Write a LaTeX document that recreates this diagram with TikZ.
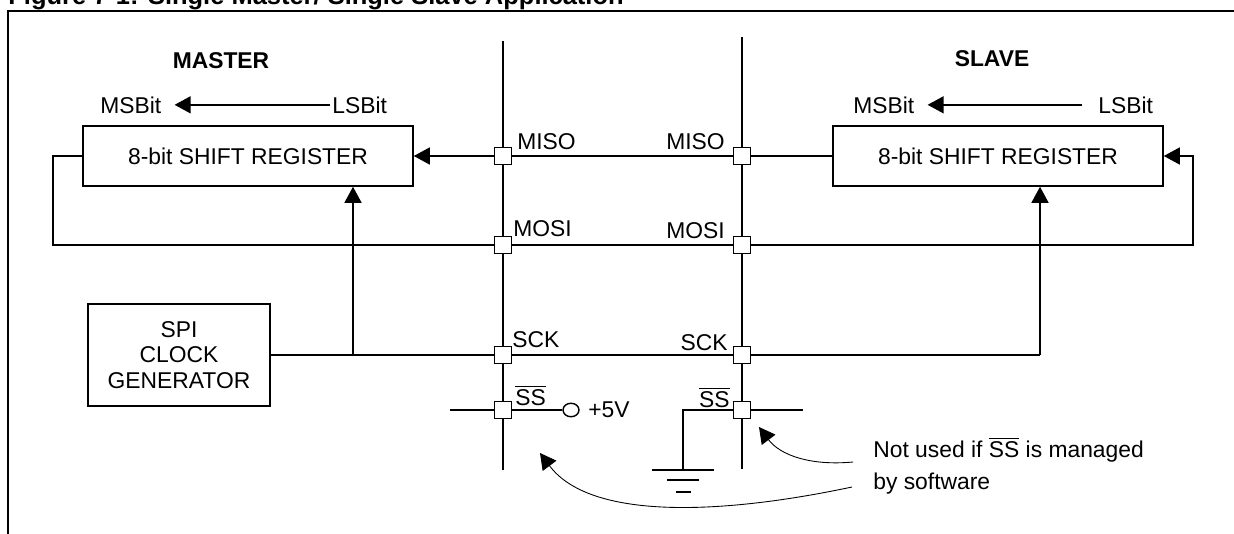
\documentclass[tikz,border=0pt]{standalone}
\usepackage{fontspec}
\setmainfont{Liberation Sans}
\usetikzlibrary{arrows.meta,shapes.geometric}
\tikzset{
  >={Triangle[length=0.32cm,width=0.34cm]},
  wire/.style={line width=0.8pt},
  regbox/.style={draw, line width=0.9pt, minimum width=6.6cm,
                 minimum height=1.2cm, inner sep=0pt},
  pin/.style={draw, line width=0.8pt, fill=white, minimum size=0.34cm,
              inner sep=0pt},
  lbl/.style={inner sep=0pt},
  note/.style={line width=0.5pt}
}
\begin{document}
\begin{tikzpicture}[x = 0.02cm, y = -0.02cm,
                    font = \fontsize{13}{15}\selectfont]
  \useasboundingbox (0,0) rectangle (1234,534);
  % title and frame
  \node [lbl, anchor = base west,
         font = \bfseries\fontsize{14.5}{17}\selectfont] (title)
    at (8,5) {Figure 7-1: Single Master/ Single Slave Application};
  \draw [line width = 1pt] (8,534) -- (8,11) -- (1234,11);

  % master and slave
  \node [lbl, anchor = base, font = \bfseries\fontsize{13}{15}\selectfont]
    (master) at (221,68) {MASTER};
  \node [lbl, anchor = base, font = \bfseries\fontsize{13}{15}\selectfont]
    (slave) at (992,66) {SLAVE};
  \node [lbl, anchor = base west] (mmsb) at (100,113) {MSBit};
  \node [lbl, anchor = base west] (mlsb) at (332,113) {LSBit};
  \node [lbl, anchor = base west] (smsb) at (853,113) {MSBit};
  \node [lbl, anchor = base west] (slsb) at (1098,113) {LSBit};
  \draw [wire, ->, shorten <= 0.04cm, shorten >= 0.26cm] (mlsb) -- (mmsb);
  \draw [wire, ->, shorten <= 0.32cm, shorten >= 0.26cm] (slsb) -- (smsb);
  \node [regbox] (mreg) at (248,156) {8-bit SHIFT REGISTER};
  \node [regbox] (sreg) at (998,156) {8-bit SHIFT REGISTER};
  \node [draw, line width = 0.9pt, minimum width = 3.64cm,
         minimum height = 2.04cm, align = center,
         font = \fontsize{13}{14.7}\selectfont] (clk)
    at (179,355) {SPI\\CLOCK\\GENERATOR};

  % bus pins
  \foreach \n/\y in {miso/156, mosi/245, sck/355, ss/410}
    {
      \node [pin] (l\n) at (503,\y) {};
      \node [pin] (r\n) at (742,\y) {};
    }
  \coordinate (ltop) at (503,41);
  \coordinate (lbot) at (503,470);
  \coordinate (rtop) at (742,37);
  \coordinate (rbot) at (742,469);
  \draw [wire] (ltop) -- (lmiso) -- (lmosi) -- (lsck) -- (lss) -- (lbot);
  \draw [wire] (rtop) -- (rmiso) -- (rmosi) -- (rsck) -- (rss) -- (rbot);
  \node [lbl, anchor = base west] (lmisolbl) at (517,149) {MISO};
  \node [lbl, anchor = base east] (rmisolbl) at (725,149) {MISO};
  \node [lbl, anchor = base west] (lmosilbl) at (513,236) {MOSI};
  \node [lbl, anchor = base east] (rmosilbl) at (725,238) {MOSI};
  \node [lbl, anchor = base west] (lscklbl) at (512,347) {SCK};
  \node [lbl, anchor = base east] (rscklbl) at (728,350) {SCK};
  \node [lbl, anchor = base west] (lsslbl) at (515,405)
    {$\overline{\mbox{SS}}$};
  \node [lbl, anchor = base east] (rsslbl) at (730,407)
    {$\overline{\mbox{SS}}$};

  % MISO, MOSI, SCK
  \draw [wire] (sreg) -- (rmiso) -- (lmiso);
  \draw [wire, ->] (lmiso) -- (mreg);
  \coordinate (mfb) at (53,245);
  \coordinate (sfb) at (1193,245);
  \draw [wire, ->] (mreg.west) -| (mfb) -- (lmosi) -- (rmosi) -- (sfb)
    |- (sreg.east);
  \coordinate (mtap) at (353,355);
  \coordinate (stap) at (1040,355);
  \draw [wire] (clk) -- (lsck) -- (rsck) -- (stap);
  \draw [wire, ->] (mtap) -- (mtap |- mreg.south);
  \draw [wire, ->] (stap) -- (stap |- sreg.south);

  % slave select
  \coordinate (lssw) at (450,410);
  \node [draw, ellipse, wire, minimum width = 0.32cm,
         minimum height = 0.27cm, inner sep = 0pt] (vcc) at (571,410) {};
  \node [lbl, anchor = west] (vcclbl) at (588,410) {+5V};
  \draw [wire] (lssw) -- (lss) -- (vcc);
  \coordinate (gnd) at (683,470);
  \coordinate (rsse) at (803,410);
  \draw [wire] (gnd) |- (rss) -- (rsse);
  \foreach \w/\y in {31/470, 16/480, 7.5/492}
    \draw [wire] (683-\w,\y) -- (683+\w,\y);

  % note
  \node [lbl, anchor = base west] (note1) at (873,457)
    {Not used if $\overline{\mbox{SS}}$ is managed};
  \node [lbl, anchor = base west] (note2) at (873,489) {by software};
  \coordinate (n1) at (853,462);
  \coordinate (t1) at (759,427);
  \coordinate (n2) at (852,487);
  \coordinate (t2) at (540,453);
  \draw [note, ->] (n1) .. controls (810,466) and (780,455) .. (t1);
  \draw [note, ->] (n2) .. controls (720,515) and (590,520) .. (t2);
\end{tikzpicture}
\end{document}
